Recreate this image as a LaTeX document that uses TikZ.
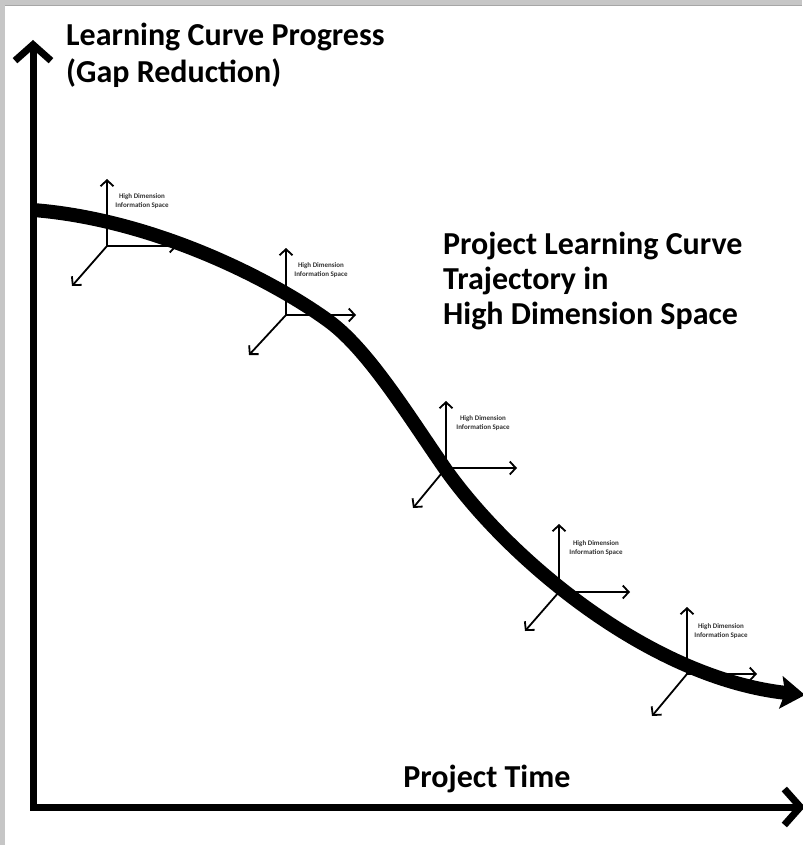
\documentclass[tikz,border=0pt]{standalone}
\usepackage{fontspec}
\setmainfont{Carlito}
\usetikzlibrary{arrows.meta}

\begin{document}
\begin{tikzpicture}[
  x=1pt, y=-1pt,
  axis/.style={line width=7pt, line join=miter,
    arrows={Straight Barb[length=16pt,width=36pt]-Straight Barb[length=16pt,width=36pt]}},
  trajectory/.style={line width=14pt, line cap=butt,
    -{Stealth[length=24pt,width=32pt,inset=4pt]}},
  dimarrow/.style={line width=1.8pt, -{Straight Barb[length=6pt,width=13pt]}},
  dimlabel/.style={font=\bfseries\fontsize{7}{8.5}\selectfont, text=black!80, align=center, inner sep=0pt},
  bigtext/.style={font=\bfseries\fontsize{32}{35}\selectfont, inner sep=0pt}
]

  % Marco gris y fondo
  \fill[gray!45] (0,0) rectangle (802,845);
  \fill[white] (5,6) rectangle (802,845);
  \draw[gray!70, line width=1pt] (5,5.5) -- (802,5.5);
  \useasboundingbox (0,0) rectangle (802,845);

  % Ejes
  \coordinate (corner) at (33,807);
  \coordinate (ytip) at (33,40);
  \coordinate (xtip) at (805,807);
  \draw[axis] (ytip) -- (corner) -- (xtip);

  % Textos (base = ultima linea)
  \node[bigtext, font=\bfseries\fontsize{32}{37}\selectfont, anchor=base west, align=left] (ylabel) at (66,83)
    {Learning Curve Progress\\(Gap Reduction)};
  \node[bigtext, anchor=base west, align=left] (title) at (443,324)
    {Project Learning Curve\\Trajectory in\\High Dimension Space};
  \node[bigtext, anchor=base] (xlabel) at (487,787) {Project Time};

  % Trayectoria
  \coordinate (start) at (33,210);
  \coordinate (bend) at (330,322);
  \coordinate (turn) at (446,470);
  \coordinate (finish) at (805,695);
  \draw[trajectory] (start) .. controls (160,220) and (280,285) .. (bend)
    .. controls (370,352) and (411,420) .. (turn)
    .. controls (510,560) and (650,678) .. (finish);

  % Sistemas de ejes locales
  \coordinate (o1) at (107,246);
  \coordinate (o2) at (286,315);
  \coordinate (o3) at (446,468);
  \coordinate (o4) at (559,592);
  \coordinate (o5) at (687,674);

  \draw[dimarrow] (o1) -- ++(0,-67);
  \draw[dimarrow] (o1) -- ++(70,0);
  \draw[dimarrow] (o1) -- ++(-35,40);
  \node[dimlabel] (l1) at (142,201) {High Dimension\\Information Space};

  \draw[dimarrow] (o2) -- ++(0,-67);
  \draw[dimarrow] (o2) -- ++(70,0);
  \draw[dimarrow] (o2) -- ++(-37,40);
  \node[dimlabel] (l2) at (321,270) {High Dimension\\Information Space};

  \draw[dimarrow] (o3) -- ++(0,-67);
  \draw[dimarrow] (o3) -- ++(71,0);
  \draw[dimarrow] (o3) -- ++(-33,40);
  \node[dimlabel] (l3) at (483,423) {High Dimension\\Information Space};

  \draw[dimarrow] (o4) -- ++(0,-68);
  \draw[dimarrow] (o4) -- ++(71,0);
  \draw[dimarrow] (o4) -- ++(-34,39);
  \node[dimlabel] (l4) at (596,548) {High Dimension\\Information Space};

  \draw[dimarrow] (o5) -- ++(0,-67);
  \draw[dimarrow] (o5) -- ++(70,0);
  \draw[dimarrow] (o5) -- ++(-35,42);
  \node[dimlabel] (l5) at (721,631) {High Dimension\\Information Space};

\end{tikzpicture}
\end{document}
